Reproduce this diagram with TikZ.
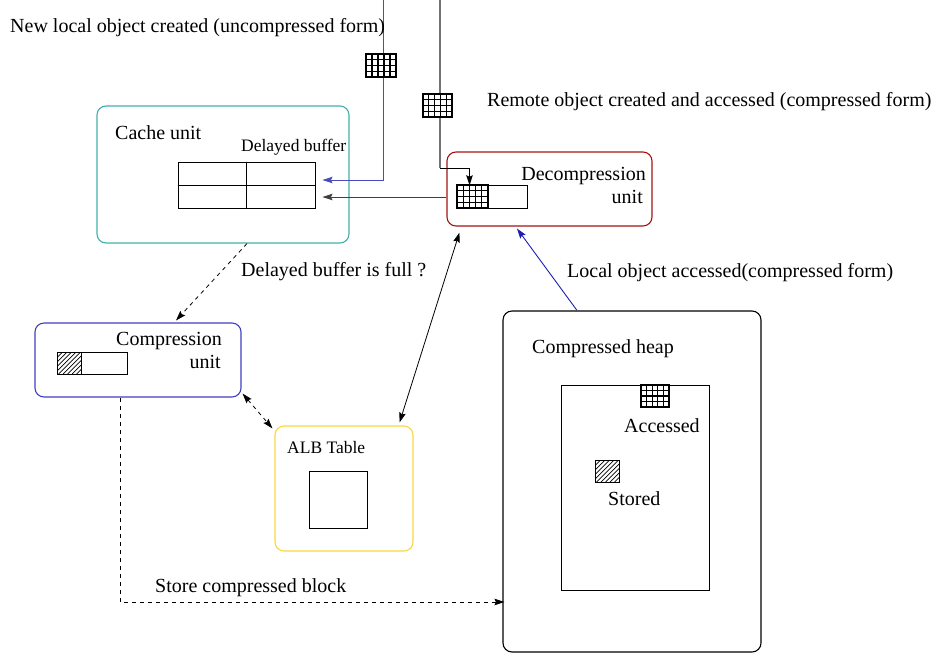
\documentclass[tikz,border=0pt]{standalone}
\usepackage{fontspec}
\setmainfont{Liberation Serif}
\usetikzlibrary{arrows.meta,calc}

\definecolor{cachecol}{RGB}{64,176,170}
\definecolor{compcol}{RGB}{64,64,192}
\definecolor{decompcol}{RGB}{165,20,20}
\definecolor{albcol}{RGB}{246,216,64}
\definecolor{flowblue}{RGB}{30,30,175}

\begin{document}
\begin{tikzpicture}[x=1pt,y=-1pt,
  bigtxt/.style={font=\fontsize{20}{23}\selectfont, inner sep=0pt, anchor=base west},
  smalltxt/.style={font=\fontsize{17.5}{20}\selectfont, inner sep=0pt, anchor=base west},
  unitbox/.style={draw, rounded corners=9pt, line width=1.1pt, inner sep=0pt},
  plainbox/.style={draw, line width=0.9pt, inner sep=0pt, fill=white},
  tipped/.style={-{Stealth[length=10pt,width=6.5pt,inset=1.5pt]}},
  bothtipped/.style={{Stealth[length=10pt,width=6.5pt,inset=1.5pt]}-{Stealth[length=10pt,width=6.5pt,inset=1.5pt]}},
  gridicon/.style={draw, line width=1.4pt, fill=white, inner sep=0pt,
    path picture={
      \foreach \t in {0.2,0.4,0.6,0.8}
        \draw[line width=1.1pt] ($(path picture bounding box.north west)!\t!(path picture bounding box.north east)$)
          -- ($(path picture bounding box.south west)!\t!(path picture bounding box.south east)$);
      \foreach \t in {0.25,0.5,0.75}
        \draw[line width=1.1pt] ($(path picture bounding box.north west)!\t!(path picture bounding box.south west)$)
          -- ($(path picture bounding box.north east)!\t!(path picture bounding box.south east)$);
    }},
  hatchicon/.style={draw, line width=0.9pt, fill=white, inner sep=0pt,
    minimum width=24pt, minimum height=22pt,
    path picture={
      \foreach \k in {-30,-25.5,...,26}
        \draw[line width=0.7pt] ([xshift=\k pt]path picture bounding box.south west) -- ++(32pt,32pt);
    }}
]
\useasboundingbox (0,0) rectangle (939,656);

% ---- units ----
\node[unitbox, draw=cachecol, minimum width=252pt, minimum height=137pt] (cache) at (223,174.5) {};
\node[unitbox, draw=decompcol, minimum width=205pt, minimum height=74pt] (dec) at (549.5,189) {};
\node[unitbox, draw=compcol, minimum width=206pt, minimum height=74pt] (comp) at (138,360) {};
\node[unitbox, draw=albcol, minimum width=138pt, minimum height=125pt] (alb) at (344,488.5) {};
\node[unitbox, draw=black, minimum width=258pt, minimum height=341pt] (heap) at (632,481.5) {};

% ---- contents of the cache unit ----
\node[bigtxt] (cachelbl) at (115,139) {Cache unit};
\node[smalltxt] (dbuflbl) at (241,151) {Delayed buffer};
\node[plainbox, minimum width=137pt, minimum height=46pt] (tbl) at (246.5,185) {};
\draw[line width=0.9pt] (tbl.north) -- (tbl.south);
\draw[line width=0.9pt] (tbl.west) -- (tbl.east);

% ---- contents of the decompression unit ----
\node[bigtxt, anchor=base east] (declbl1) at (646,180) {Decompression};
\node[bigtxt, anchor=base east] (declbl2) at (643,203) {unit};
\node[plainbox, minimum width=70pt, minimum height=23pt] (dbuf) at (492,196.5) {};
\node[gridicon, minimum width=31pt, minimum height=23pt] (dgrid) at (472.5,196.5) {};

% ---- contents of the compression unit ----
\node[bigtxt, anchor=base east] (complbl1) at (222,345) {Compression};
\node[bigtxt, anchor=base east] (complbl2) at (221,368) {unit};
\node[plainbox, minimum width=70pt, minimum height=22pt] (cbuf) at (92,363) {};
\node[hatchicon] (chatch) at (69,363) {};

% ---- ALB table ----
\node[smalltxt] (alblbl) at (287,453) {ALB Table};
\node[plainbox, minimum width=58pt, minimum height=57pt] (albsq) at (338,499.5) {};

% ---- compressed heap ----
\node[bigtxt] (heaplbl) at (532,353) {Compressed heap};
\node[plainbox, minimum width=148pt, minimum height=205pt] (heapin) at (635,487.5) {};
\node[gridicon, minimum width=28pt, minimum height=22pt] (hgrid) at (655,396) {};
\node[bigtxt] (acclbl) at (624,432) {Accessed};
\node[hatchicon] (hhatch) at (607,471) {};
\node[bigtxt] (stlbl) at (608,505) {Stored};

% ---- incoming objects ----
\coordinate (newsrc) at (383,0);
\coordinate (remsrc) at (440,0);
\coordinate (remturn) at (440,168);
\draw[flowblue!80!white, line width=1pt, tipped] (newsrc) |- ([xshift=7pt,yshift=5pt]tbl.east);
\draw[black!55, line width=1.2pt] (remsrc) -- (remturn);
\draw[black, line width=0.9pt, tipped] (remturn) -| ([xshift=-3pt,yshift=-1pt]dgrid.north);
\node[gridicon, minimum width=30pt, minimum height=23pt] (newobj) at (381,65.5) {};
\node[gridicon, minimum width=29pt, minimum height=23pt] (remobj) at (437.5,105.5) {};
\node[bigtxt] (newlbl) at (10,32) {New local object created (uncompressed form)};
\node[bigtxt] (remlbl) at (487,106) {Remote object created and accessed (compressed form)};

% ---- flows between units ----
\draw[black!75, line width=0.9pt, tipped] ([yshift=-8pt]dec.west) -- ([xshift=7pt,yshift=-12pt]tbl.east);
\draw[black, line width=0.8pt, dash pattern=on 4pt off 4pt, tipped]
  ([xshift=24pt]cache.south) -- ([xshift=38pt,yshift=2pt]comp.north);
\node[bigtxt] (fulllbl) at (241,276) {Delayed buffer is full ?};
\draw[black, line width=0.8pt, dash pattern=on 4pt off 4pt, bothtipped]
  ([shift={(1pt,4pt)}]comp.south east) -- ([shift={(-2pt,-3pt)}]alb.north west);
\draw[black, line width=0.8pt, bothtipped]
  ([xshift=-14pt,yshift=3pt]alb.north east) -- ([xshift=13pt,yshift=-6pt]dec.south west);
\draw[flowblue, line width=0.9pt, tipped] ([xshift=-55pt]heap.north) -- ([xshift=-32.5pt,yshift=-2pt]dec.south);
\node[bigtxt] (acclocal) at (567,277) {Local object accessed(compressed form)};
\draw[black, line width=0.8pt, dash pattern=on 4pt off 4pt, tipped]
  ([xshift=-18pt]comp.south) |- ([xshift=2pt,yshift=-120.5pt]heap.west);
\node[bigtxt] (storelbl) at (155,592) {Store compressed block};
\end{tikzpicture}
\end{document}
